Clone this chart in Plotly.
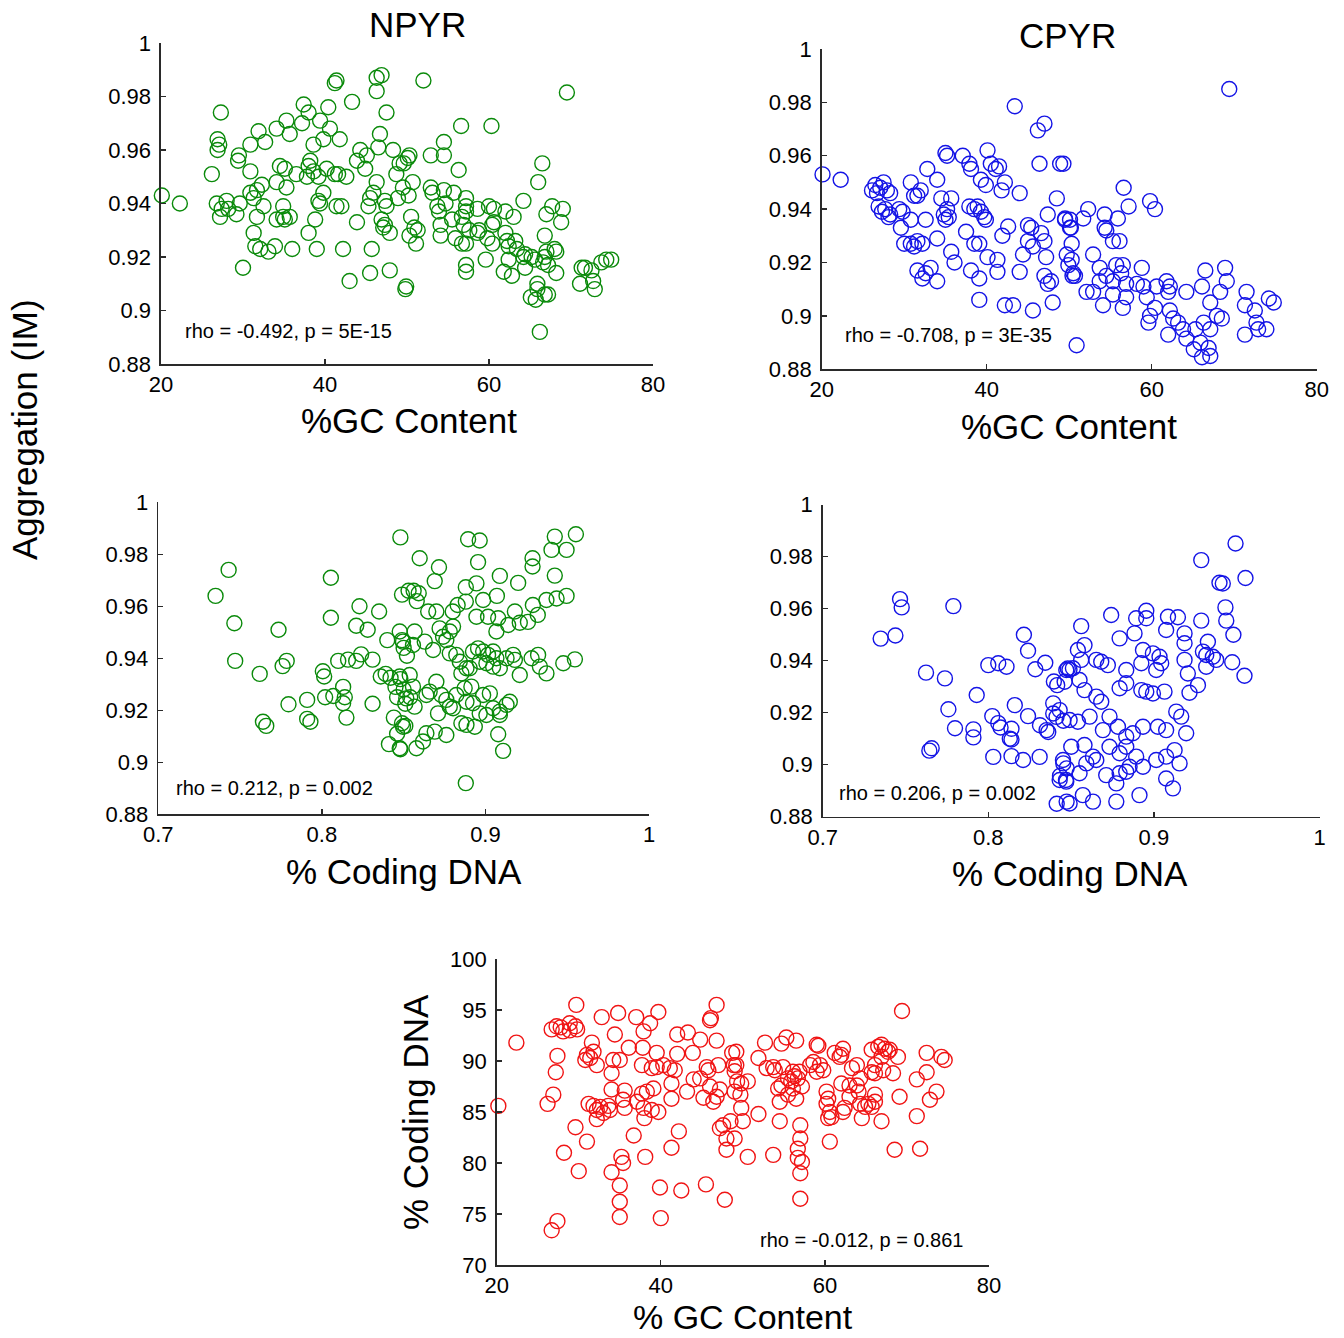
import plotly.graph_objects as go

# ---------------- data ----------------
npyr_vs_gc = [
(20.1,0.943),(22.3,0.940),(27.3,0.974),(26.9,0.964),(27.1,0.962),(26.9,0.960),(26.2,0.951),
(26.8,0.940),(27.4,0.938),(28.0,0.941),(27.2,0.935),(28.2,0.938),(29.2,0.936),(29.6,0.940),
(29.5,0.958),(29.4,0.956),(30.9,0.962),(30.9,0.952),(30.0,0.916),
(31.3,0.929),(31.5,0.924),(32.1,0.923),(33.1,0.922),(33.9,0.924),
(31.9,0.967),(32.7,0.963),(34.1,0.968),(35.3,0.971),(35.7,0.966),
(30.9,0.944),(31.7,0.945),(32.3,0.947),(31.3,0.942),(32.5,0.939),(31.7,0.935),
(34.1,0.948),(35.3,0.946),(34.5,0.954),(35.1,0.953),
(34.9,0.939),(34.1,0.934),(34.9,0.935),(35.7,0.935),(35.1,0.934),
(36.0,0.923),(37.2,0.970),(37.4,0.977),(38.0,0.974),(39.4,0.971),(40.4,0.976),(40.6,0.968),
(38.6,0.962),(39.8,0.964),(41.8,0.964),
(38.2,0.956),(38.0,0.954),(37.8,0.950),(38.6,0.952),(39.2,0.950),(40.2,0.953),
(36.5,0.951),(41.2,0.951),(41.6,0.951),(42.6,0.950),
(39.8,0.944),(39.2,0.941),(39.4,0.940),(41.4,0.939),(42.0,0.939),
(38.8,0.934),(38.0,0.929),(39.0,0.923),(42.2,0.923),
(41.2,0.985),(41.4,0.986),(43.3,0.978),(43.0,0.911),(43.9,0.933),(45.7,0.923),(45.5,0.914),
(44.3,0.960),(45.1,0.958),(43.9,0.956),(44.9,0.953),(46.5,0.961),(46.7,0.966),
(46.3,0.987),(46.9,0.988),(46.3,0.982),(47.5,0.974),
(45.5,0.942),(45.3,0.939),(45.9,0.944),(47.3,0.941),(47.5,0.939),
(46.3,0.948),(46.9,0.934),(47.3,0.932),(47.9,0.929),(47.1,0.931),(47.9,0.915),
(48.3,0.960),(49.1,0.955),(48.7,0.951),(49.5,0.946),(48.9,0.942),(50.1,0.957),(49.8,0.908),
(52.0,0.986),(69.5,0.9815),(56.6,0.969),(60.3,0.969),(54.5,0.963),(54.5,0.958),(52.9,0.958),(50.3,0.958),
(56.3,0.9525),(66.5,0.955),(66.0,0.948),
(49.6,0.955),(50.7,0.948),(50.2,0.943),
(52.9,0.946),(53.1,0.944),(54.5,0.945),(55.7,0.944),(57.2,0.942),(57.2,0.939),
(53.7,0.939),(54.7,0.940),(53.9,0.937),(54.1,0.932),(55.5,0.934),(56.7,0.935),(56.9,0.932),(57.2,0.937),(57.6,0.930),
(50.5,0.935),(50.9,0.931),(51.3,0.930),(50.3,0.928),(51.1,0.925),(54.1,0.928),(55.9,0.927),(56.7,0.925),(57.2,0.925),
(49.9,0.909),(57.2,0.917),(57.2,0.9145),(59.6,0.919),
(58.6,0.938),(60.0,0.939),(60.6,0.938),(62.0,0.937),(63.0,0.935),(64.2,0.941),
(60.6,0.933),(60.4,0.932),(58.8,0.930),(58.6,0.929),(59.8,0.927),(60.4,0.925),
(62.0,0.929),(62.2,0.926),(63.2,0.926),(62.4,0.924),(63.4,0.923),(64.4,0.921),(65.2,0.920),(62.4,0.919),(64.2,0.920),(65.6,0.919),
(61.8,0.9145),(62.8,0.913),(64.4,0.916),
(66.8,0.928),(67.0,0.922),(66.8,0.920),(68.0,0.923),(68.2,0.922),(67.0,0.936),(67.7,0.939),(69.0,0.938),(68.8,0.933),
(66.6,0.918),(67.2,0.917),(68.2,0.914),(65.9,0.910),(65.9,0.908),(65.1,0.905),(65.7,0.904),(66.8,0.906),(67.2,0.906),
(66.2,0.892),
(71.3,0.916),(71.7,0.916),(72.5,0.915),(71.1,0.910),(72.9,0.908),(72.7,0.911),
(73.7,0.918),(74.3,0.919),(74.9,0.919),
]

cpyr_vs_gc = [
(20.1,0.953),(22.3,0.951),
(26.1,0.947),(26.5,0.949),(27.1,0.948),(27.5,0.950),(27.9,0.947),(28.3,0.946),(26.7,0.946),
(26.9,0.941),(27.3,0.939),(27.7,0.940),(28.3,0.938),(28.1,0.937),(29.4,0.940),(29.8,0.939),(29.6,0.933),
(30.0,0.927),(30.8,0.927),(31.2,0.926),(31.6,0.928),(32.2,0.927),(30.8,0.950),(31.2,0.945),(31.6,0.945),(32.0,0.947),
(30.8,0.936),
(31.6,0.917),(32.2,0.914),(32.6,0.916),(33.2,0.918),(34.0,0.913),
(32.8,0.955),(34.0,0.951),
(32.6,0.936),(34.0,0.929),
(35.0,0.961),(35.2,0.960),
(34.5,0.944),(35.7,0.944),(35.2,0.940),(34.8,0.938),(35.4,0.937),(35.0,0.936),
(35.7,0.924),(36.1,0.920),
(37.1,0.960),(37.9,0.957),(38.1,0.955),
(37.5,0.9315),
(37.9,0.941),(38.5,0.940),(38.9,0.941),(39.3,0.939),(39.7,0.937),(39.9,0.936),(38.5,0.927),(39.1,0.927),(38.1,0.917),(39.1,0.914),(40.1,0.922),(39.1,0.906),
(39.3,0.951),(39.9,0.949),(40.1,0.962),(40.5,0.957),(41.1,0.955),(41.5,0.956),(41.8,0.947),(42.2,0.950),
(41.3,0.921),(41.3,0.9165),(41.9,0.930),(42.6,0.9335),(42.2,0.904),(43.2,0.904),
(43.4,0.9785),(44.0,0.946),
(44.0,0.9165),(44.4,0.923),(45.0,0.928),(45.6,0.926),(45.6,0.902),(46.6,0.931),(47.0,0.928),(47.2,0.922),(45.4,0.933),(45.0,0.934),
(46.2,0.9695),(47.0,0.972),
(46.4,0.957),(48.9,0.957),(49.3,0.957),
(47.4,0.938),(48.5,0.944),(49.5,0.936),(47.0,0.915),(47.8,0.913),(47.4,0.912),(48.0,0.905),
(50.1,0.936),(50.2,0.933),(50.3,0.921),(50.4,0.915),
(69.4,0.985),(56.6,0.948),(57.2,0.941),(59.8,0.943),(60.4,0.940),
(52.3,0.940),(51.7,0.9365),(54.3,0.938),(54.3,0.933),(54.5,0.932),(55.9,0.9365),(49.5,0.9365),(50.1,0.933),(55.3,0.928),(56.1,0.928),(50.3,0.927),(52.9,0.923),(49.7,0.923),(49.9,0.919),(50.5,0.916),(50.7,0.915),
(53.7,0.918),(54.5,0.915),(55.7,0.919),(56.5,0.919),(56.3,0.916),(58.8,0.918),(53.7,0.913),(55.3,0.913),(56.9,0.912),(58.2,0.912),(59.0,0.911),(60.6,0.911),(61.8,0.913),(62.2,0.911),(62.0,0.909),(64.2,0.909),(66.1,0.911),(66.5,0.917),(68.9,0.918),(69.1,0.913),(68.3,0.909),(71.5,0.909),(74.2,0.9065),(74.8,0.905),
(52.1,0.909),(52.9,0.909),(55.3,0.908),(54.1,0.904),(56.5,0.903),(56.9,0.907),(59.4,0.907),(60.4,0.903),(59.8,0.900),(59.6,0.8975),(62.2,0.902),(62.6,0.899),(63.2,0.8975),(63.8,0.895),(62.0,0.893),(64.2,0.8915),(65.3,0.895),(66.3,0.8975),(67.1,0.895),(67.1,0.905),(67.9,0.900),(68.5,0.899),(71.3,0.904),(72.5,0.902),(72.7,0.8975),(71.3,0.893),(72.9,0.895),(73.9,0.895),(65.1,0.8875),(66.1,0.8845),(67.1,0.885),(66.9,0.888),(65.9,0.890),(50.9,0.889),
]

npyr_vs_coding = [
(0.848,0.9865),(0.743,0.974),(0.735,0.964),(0.8055,0.971),(0.7465,0.9535),(0.8055,0.9556),(0.7735,0.951),
(0.823,0.960),(0.835,0.958),(0.821,0.9525),(0.828,0.951),
(0.840,0.947),(0.849,0.947),(0.850,0.944),(0.852,0.941),
(0.849,0.9645),(0.853,0.966),
(0.747,0.939),(0.762,0.934),(0.776,0.937),(0.7785,0.939),(0.7796,0.9223),
(0.791,0.924),(0.791,0.9167),(0.793,0.9156),(0.764,0.9156),(0.766,0.914),
(0.8006,0.935),(0.8014,0.933),(0.802,0.925),(0.807,0.9255),(0.810,0.939),(0.816,0.9395),(0.821,0.939),(0.824,0.9415),(0.831,0.9395),(0.813,0.929),(0.814,0.925),(0.813,0.9227),(0.815,0.9172),(0.831,0.9225),
(0.836,0.933),(0.839,0.934),(0.842,0.9325),(0.845,0.929),(0.848,0.932),(0.850,0.928),(0.846,0.925),(0.851,0.9225),(0.854,0.925),
(0.844,0.9172),(0.849,0.915),(0.851,0.914),(0.846,0.911),(0.841,0.907),(0.848,0.905),
(0.9553,0.9877),(0.9424,0.9868),(0.9404,0.9817),(0.9496,0.9817),(0.9288,0.9785),(0.9288,0.9753),(0.9424,0.9718),
(0.8894,0.9858),(0.8965,0.9853),(0.8955,0.977),(0.8598,0.9785),(0.8716,0.975),(0.869,0.9697),
(0.9088,0.9717),(0.920,0.969),(0.888,0.9673),(0.8945,0.9688),
(0.8561,0.966),(0.8592,0.965),(0.858,0.962),(0.8986,0.9624),(0.907,0.964),
(0.9373,0.9624),(0.9435,0.963),(0.9496,0.964),
(0.929,0.9605),(0.932,0.9567),(0.926,0.954),(0.921,0.9537),(0.918,0.958),
(0.865,0.958),(0.870,0.958),(0.880,0.958),(0.883,0.9605),(0.888,0.9618),
(0.8945,0.956),(0.9016,0.956),(0.9078,0.9554),(0.9139,0.9528),(0.9067,0.9503),
(0.8476,0.9503),(0.8496,0.9464),(0.8567,0.9503),(0.8557,0.9451),(0.8629,0.9464),(0.868,0.9432),(0.8741,0.9483),(0.8782,0.9503),(0.8802,0.9522),(0.872,0.9515),(0.8761,0.947),
(0.8822,0.9413),(0.8782,0.9419),(0.8843,0.9387),(0.8884,0.9362),(0.8853,0.9342),(0.8904,0.9362),(0.8924,0.9426),(0.8955,0.9438),(0.8986,0.9426),(0.9016,0.9413),(0.9047,0.9426),
(0.8965,0.9387),(0.9006,0.9381),(0.9067,0.94),(0.9047,0.9368),(0.9088,0.9362),(0.9129,0.94),(0.9169,0.9413),(0.918,0.9394),(0.921,0.9336),(0.9282,0.94),(0.9322,0.9413),(0.9333,0.9368),(0.9373,0.9342),(0.9476,0.9381),(0.9547,0.9396),
(0.8476,0.933),(0.8537,0.9336),(0.8557,0.9291),(0.8516,0.9246),(0.8567,0.9214),(0.8639,0.9259),(0.8659,0.9272),(0.87,0.931),(0.873,0.9259),(0.8761,0.924),(0.8782,0.9214),(0.8802,0.9208),(0.8822,0.9259),(0.8873,0.9285),(0.8914,0.9291),
(0.8884,0.9233),(0.8924,0.9227),(0.8986,0.9259),(0.9027,0.9265),(0.9047,0.9208),(0.9088,0.9195),(0.9129,0.9221),(0.9149,0.9233),(0.9088,0.9182),(0.9006,0.9182),(0.8965,0.9188),
(0.871,0.9188),(0.869,0.9118),(0.8761,0.9105),(0.8639,0.9112),(0.8618,0.908),(0.8578,0.9054),(0.8496,0.9137),(0.8476,0.9054),(0.8853,0.915),(0.8884,0.9144),(0.8935,0.9137),(0.9078,0.9108),(0.9108,0.9044),(0.888,0.892),
]

cpyr_vs_coding = [
(0.7467,0.9637),(0.7477,0.9605),(0.7789,0.961),(0.735,0.9485),(0.7439,0.9497),(0.7624,0.9354),(0.7738,0.9332),(0.793,0.9268),(0.7759,0.9213),(0.7799,0.914),(0.791,0.9136),(0.791,0.9105),(0.7644,0.9054),(0.7658,0.9063),
(0.800,0.9383),(0.806,0.939),(0.811,0.9377),(0.8215,0.950),(0.824,0.9438),(0.8284,0.9367),(0.8344,0.9392),(0.8396,0.932),(0.8416,0.9306),
(0.8024,0.9187),(0.806,0.916),(0.8074,0.9143),(0.814,0.9138),(0.813,0.910),(0.814,0.9097),
(0.816,0.9229),(0.824,0.9187),(0.8312,0.9152),(0.8352,0.9133),(0.8362,0.9126),(0.8392,0.9236),(0.8392,0.9197),(0.8412,0.9184),(0.8453,0.9169),
(0.803,0.903),(0.814,0.9033),(0.821,0.9018),(0.831,0.903),
(0.8453,0.9005),(0.8473,0.8986),(0.8433,0.8957),(0.8469,0.8941),(0.8413,0.885),(0.8473,0.8858),
(0.848,0.937),(0.849,0.9365),
(0.9493,0.9851),(0.9286,0.9787),(0.9553,0.9718),(0.9396,0.970),(0.9416,0.9697),(0.9432,0.9605),(0.9437,0.9554),(0.948,0.950),(0.9473,0.9394),(0.9547,0.9342),(0.9286,0.9554),
(0.9326,0.9473),(0.9316,0.9422),(0.9296,0.9435),(0.9356,0.9415),(0.9376,0.9403),(0.9316,0.9377),
(0.9145,0.9567),(0.9085,0.9569),(0.9074,0.9518),(0.9185,0.9505),(0.9185,0.9467),(0.9185,0.9403),(0.9205,0.9351),(0.9215,0.9277),(0.9266,0.9306),
(0.8954,0.9592),(0.8954,0.9563),(0.8893,0.9563),(0.8883,0.9505),(0.8934,0.9441),(0.8994,0.9428),(0.9034,0.9415),(0.9044,0.939),(0.9014,0.9364),(0.8924,0.939),(0.8833,0.9364),(0.8793,0.9486),(0.8742,0.9576),
(0.8561,0.9533),(0.8581,0.946),(0.8541,0.9441),(0.8561,0.9403),(0.8511,0.9371),(0.8471,0.9364),(0.8461,0.9319),(0.8551,0.9326),(0.8581,0.9287),(0.8652,0.9403),(0.8682,0.9396),(0.8722,0.9383),
(0.8652,0.9262),(0.8682,0.9242),(0.8793,0.9294),(0.8833,0.9313),(0.8924,0.9287),(0.8954,0.9281),(0.8994,0.9274),(0.9064,0.9281),(0.9135,0.9204),(0.9165,0.9185),(0.9195,0.9121),
(0.9074,0.9133),(0.9024,0.9146),(0.8934,0.9146),(0.8873,0.9121),(0.8833,0.9108),(0.8783,0.9146),(0.8732,0.9185),(0.8692,0.9133),(0.8612,0.9185),(0.8541,0.9165),(0.8491,0.9172),
(0.8581,0.9076),(0.8632,0.9031),(0.8592,0.9005),(0.8652,0.9018),(0.8732,0.9069),(0.8793,0.9044),(0.8833,0.9069),(0.8893,0.9031),(0.8853,0.8992),(0.8934,0.8992),(0.9014,0.9018),(0.9074,0.9031),(0.9125,0.9056),(0.9155,0.9005),
(0.9074,0.8947),(0.9115,0.8909),(0.8913,0.8883),(0.8773,0.8928),(0.8773,0.8858),(0.8632,0.8858),(0.8571,0.8883),(0.8491,0.8851),(0.8471,0.8935),(0.8431,0.8941),(0.8451,0.9018),
(0.8793,0.8967),(0.8833,0.8973),(0.8712,0.896),(0.8551,0.8967),(0.8501,0.9069),(0.8431,0.921),
]

coding_vs_gc = [
(20.2,85.6),(22.4,91.8),(29.7,95.5),
(26.7,93.1),(27.3,93.4),(27.8,93.3),(28.1,92.9),(28.9,93.7),(29.6,93.4),(29.8,93.1),(28.9,93.0),
(27.4,90.5),(27.2,88.9),(26.9,86.7),(26.2,85.8),
(28.2,81.0),(30.0,79.2),(29.6,83.5),(31.0,82.1),
(26.7,73.4),(27.4,74.3),
(32.8,94.3),(34.8,94.7),(37.0,94.3),(39.7,94.8),(38.7,93.7),
(34.4,92.6),(31.6,91.8),(36.1,91.3),(37.8,91.3),(37.9,92.9),
(30.8,90.1),(31.4,90.3),(31.8,90.9),(32.2,89.6),(31.0,90.6),
(34.2,90.1),(34.0,88.8),(35.0,90.1),(37.7,89.6),(38.9,89.3),(39.5,89.4),(40.3,89.6),(41.1,89.3),(41.7,89.1),(39.5,90.8),
(34.0,87.2),(35.6,87.1),(35.4,86.2),(35.6,85.4),(37.1,86.0),(37.7,86.8),(38.3,87.0),(37.9,85.4),(38.9,85.2),(39.7,85.0),(39.1,87.3),(41.3,86.3),(41.3,87.8),(43.2,87.0),
(31.2,85.8),(31.8,85.6),(32.2,85.2),(32.6,85.5),(33.6,85.6),(32.2,84.3),(33.0,84.9),(33.8,85.2),
(36.7,82.7),(38.0,84.4),(42.2,83.1),(41.3,81.5),(38.1,80.6),(35.2,80.6),(35.4,80.0),(34.0,79.1),(35.0,77.8),(35.0,76.2),(35.0,74.7),(39.9,77.6),(40.0,74.6),(42.5,77.3),(45.5,77.9),(47.8,76.4),(48.0,81.3),(48.0,82.4),(47.2,83.4),(47.6,83.7),(48.5,84.1),
(42.0,92.6),(43.3,92.8),(44.8,92.1),(46.8,92.0),(42.0,90.7),(43.9,90.8),(46.8,95.5),(46.1,94.2),(46.0,94.0),(48.7,90.8),(47.0,89.6),(45.6,89.4),(45.8,89.1),(48.9,89.6),(44.0,88.2),(44.8,88.3),(46.0,87.5),(47.2,87.2),(45.2,86.4),(46.4,86.0),(46.8,86.5),(49.3,88.0),(49.7,86.7),
(69.4,94.9),(52.7,91.8),(54.7,91.7),(55.3,92.3),(56.5,92.0),(59.2,91.5),
(51.9,90.3),(52.9,89.3),(53.7,89.4),(53.9,89.1),(54.9,89.4),(55.5,88.3),(56.1,88.95),(56.3,88.5),(56.7,88.3),(56.9,88.95),(55.9,88.0),(54.7,87.6),(54.3,87.3),(56.1,87.3),(55.5,86.7),(56.5,86.3),(57.2,87.5),(54.5,86.0),
(49.2,90.9),(49.2,89.6),(49.0,89.0),(49.8,87.8),(50.6,88.0),(49.0,87.0),(49.8,85.4),(50.0,84.1),(49.0,82.4),(51.9,84.8),(54.5,84.1),(50.6,80.6),(53.7,80.8),(57.0,83.7),(57.0,82.4),(56.7,81.4),(56.7,80.5),(57.2,80.1),(57.0,79.0),(57.0,76.5),
(58.2,89.6),(58.6,89.9),(59.4,89.6),(59.0,88.95),(59.8,89.1),(59.0,91.6),
(60.2,87.0),(60.4,86.3),(60.2,85.8),(60.6,85.0),(60.4,84.4),(60.8,84.5),(62.2,85.0),(62.4,85.4),(63.0,86.5),(64.1,87.0),(64.3,85.8),(64.5,84.4),(64.9,85.5),(65.3,85.8),(65.7,85.5),(66.1,86.0),(66.9,84.1),(66.1,86.7),(60.6,82.1),
(61.2,90.8),(62.0,90.6),(62.2,91.2),(63.3,89.3),(63.9,89.6),(64.3,88.3),(63.9,87.6),(63.0,87.6),(62.0,87.8),(61.8,90.4),
(65.7,91.1),(66.5,91.4),(66.9,91.6),(67.3,91.2),(67.7,90.9),(67.9,91.1),(68.9,90.4),(66.9,90.4),(66.1,89.6),(67.1,89.1),(65.7,88.9),(66.1,88.8),(68.3,88.8),(69.1,86.5),
(71.2,88.2),(72.4,88.9),(72.4,90.8),(74.2,90.4),(74.6,90.1),(73.6,87.0),(72.8,86.2),(71.2,84.6),(68.5,81.3),(71.6,81.4),
]

agg_ticks = [0.88, 0.90, 0.92, 0.94, 0.96, 0.98, 1.00]
agg_ticktext = ["0.88", "0.9", "0.92", "0.94", "0.96", "0.98", "1"]
gc_ticks = [20, 40, 60, 80]
coding_frac_ticks = [0.7, 0.8, 0.9, 1.0]
coding_frac_ticktext = ["0.7", "0.8", "0.9", "1"]
coding_pct_ticks = [70, 75, 80, 85, 90, 95, 100]

stats_text = ["rho = -0.492, p = 5E-15", "rho = -0.708, p = 3E-35",
              "rho = 0.212, p = 0.002", "rho = 0.206, p = 0.002",
              "rho = -0.012, p = 0.861"]

# ---------------- layout helpers ----------------
W, H = 1344, 1338
FONT = "Arial, Liberation Sans, Helvetica, sans-serif"
GREEN, BLUE, RED = "#0a8a0a", "#1414e6", "#f01414"

def px_x(p):
    return p / W

def px_y(p):
    return 1 - p / H

# panel plot areas in pixels: (left, right, top, bottom)
panels = [
    dict(box=(161, 653, 43, 364), data=npyr_vs_gc, color=GREEN,
         xr=[20, 80], xt=gc_ticks, xtt=[str(v) for v in gc_ticks],
         yr=[0.88, 1.0], yt=agg_ticks, ytt=agg_ticktext, stat=(22.7, 0.8925)),
    dict(box=(821.7, 1316.7, 48.9, 369.3), data=cpyr_vs_gc, color=BLUE,
         xr=[20, 80], xt=gc_ticks, xtt=[str(v) for v in gc_ticks],
         yr=[0.88, 1.0], yt=agg_ticks, ytt=agg_ticktext, stat=(22.6, 0.8928)),
    dict(box=(158.3, 649, 502.3, 814.3), data=npyr_vs_coding, color=GREEN,
         xr=[0.7, 1.0], xt=coding_frac_ticks, xtt=coding_frac_ticktext,
         yr=[0.88, 1.0], yt=agg_ticks, ytt=agg_ticktext, stat=(0.7096, 0.8902)),
    dict(box=(822.7, 1319.5, 504.7, 816.7), data=cpyr_vs_coding, color=BLUE,
         xr=[0.7, 1.0], xt=coding_frac_ticks, xtt=coding_frac_ticktext,
         yr=[0.88, 1.0], yt=agg_ticks, ytt=agg_ticktext, stat=(0.7084, 0.889)),
    dict(box=(496.7, 989, 959, 1265), data=coding_vs_gc, color=RED,
         xr=[20, 80], xt=gc_ticks, xtt=[str(v) for v in gc_ticks],
         yr=[70, 100], yt=coding_pct_ticks, ytt=[str(v) for v in coding_pct_ticks], stat=(51.9, 72.45)),
]

fig = go.Figure()
layout = dict(
    width=W, height=H, margin=dict(l=0, r=0, t=0, b=0, pad=0, autoexpand=False),
    paper_bgcolor="white", plot_bgcolor="white", showlegend=False,
    font=dict(family=FONT, color="black"),
)
annotations = []

for i, p in enumerate(panels):
    n = i + 1
    xs = [pt[0] for pt in p["data"]]
    ys = [pt[1] for pt in p["data"]]
    xa = "x" if n == 1 else f"x{n}"
    ya = "y" if n == 1 else f"y{n}"
    fig.add_trace(go.Scatter(
        x=xs, y=ys, mode="markers", xaxis=xa, yaxis=ya, cliponaxis=False,
        marker=dict(symbol="circle-open", size=15, color=p["color"],
                    line=dict(width=1.4, color=p["color"])),
        hoverinfo="skip"))
    l, r, t, b = p["box"]
    axis_common = dict(showline=True, linecolor="#2a2a2a", linewidth=1.6,
                       ticks="inside", ticklen=5, tickwidth=1.3, tickcolor="#2a2a2a",
                       showgrid=False, zeroline=False, mirror=False, automargin=False,
                       tickfont=dict(size=22, color="black", family=FONT))
    layout["xaxis" if n == 1 else f"xaxis{n}"] = dict(
        axis_common, domain=[px_x(l), px_x(r)], range=p["xr"],
        tickmode="array", tickvals=p["xt"], ticktext=p["xtt"],
        anchor=ya, fixedrange=True)
    layout["yaxis" if n == 1 else f"yaxis{n}"] = dict(
        axis_common, domain=[px_y(b), px_y(t)], range=p["yr"],
        tickmode="array", tickvals=p["yt"], ticktext=p["ytt"],
        anchor=xa, fixedrange=True, ticklabelstandoff=4)
    annotations.append(dict(
        x=p["stat"][0], y=p["stat"][1], xref=xa, yref=ya, text=stats_text[i],
        showarrow=False, xanchor="left", yanchor="middle",
        font=dict(size=20, color="black", family=FONT)))

def label(text, x, y, size=35, angle=0):
    annotations.append(dict(x=px_x(x), y=px_y(y), xref="paper", yref="paper",
                            text=text, showarrow=False, textangle=angle,
                            xanchor="center", yanchor="middle",
                            font=dict(size=size, color="black", family=FONT)))

label("NPYR", 417, 25)
label("CPYR", 1067, 35)
label("%GC Content", 409, 420)
label("%GC Content", 1069, 426)
label("% Coding DNA", 404, 872)
label("% Coding DNA", 1070, 873)
label("% GC Content", 743, 1317, size=34)
label("Aggregation (IM)", 25, 430, angle=-90)
label("% Coding DNA", 415, 1112, angle=-90)

layout["annotations"] = annotations
fig.update_layout(**layout)
fig.write_html(
    "out.html",
    config={"displayModeBar": False, "staticPlot": True},
    post_script="document.documentElement.style.margin='0';"
                "document.body.style.margin='0';document.body.style.padding='0';"
                "document.body.style.overflow='hidden';",
)
